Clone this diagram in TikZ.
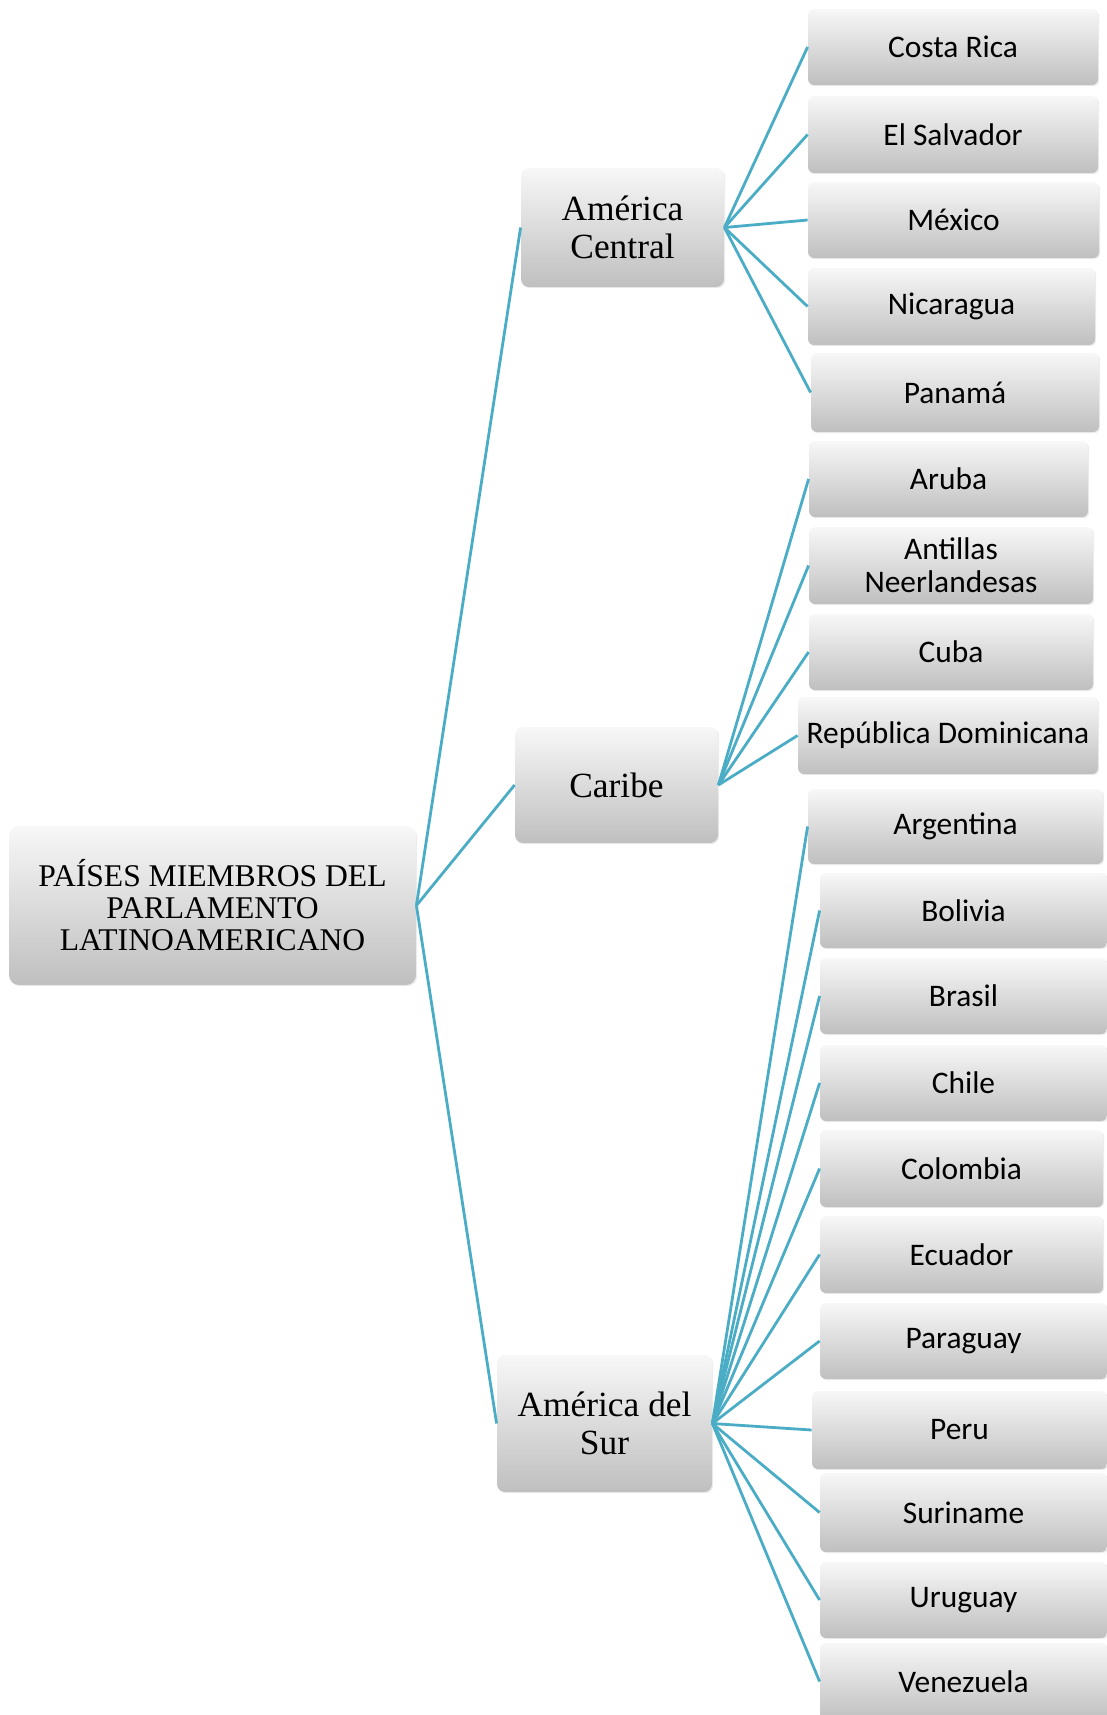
\documentclass[tikz,border=0pt]{standalone}
\usepackage{fontspec}
\usepackage{tikz}
\usetikzlibrary{shadows}
\newfontfamily\countryfont{Carlito}
\newfontfamily\titlefont{Liberation Serif}
\definecolor{linkteal}{HTML}{4BACC6}
\tikzstyle{box}=[rectangle, inner sep=0pt, top color=black!3, bottom color=black!25, drop shadow={opacity=0.15, shadow xshift=0.6pt, shadow yshift=-0.6pt}]
\tikzstyle{rootbox}=[box, rounded corners=5pt, align=center, font=\titlefont\fontsize{15.8}{16}\selectfont]
\tikzstyle{regionbox}=[box, rounded corners=4pt, align=center, font=\titlefont\fontsize{17.7}{19}\selectfont]
\tikzstyle{countrybox}=[box, rounded corners=3pt, align=center, font=\countryfont\fontsize{15.7}{16.5}\selectfont]
\tikzstyle{link}=[draw=linkteal, line width=1.4pt]

\begin{document}
\begin{tikzpicture}[x=0.5pt, y=-0.5pt]
        \useasboundingbox (0, 0) rectangle (1107, 1715);
        \clip (0, 0) rectangle (1107, 1715);
        % root and regions
        \node[rootbox, minimum width=203.5pt, minimum height=79.5pt] (plat) at (212.5, 905.5) {PAÍSES MIEMBROS DEL\\PARLAMENTO\\LATINOAMERICANO};
        \node[regionbox, minimum width=101.5pt, minimum height=59.5pt] (amc) at (622.5, 227.5) {América\\Central};
        \node[regionbox, minimum width=101.5pt, minimum height=58pt] (car) at (616.5, 785) {Caribe};
        \node[regionbox, minimum width=107.5pt, minimum height=68.5pt] (ams) at (604.5, 1423.5) {América del\\Sur};
        % América Central
        \node[countrybox, minimum width=145pt, minimum height=38pt] (costarica) at (953, 47) {Costa Rica};
        \node[countrybox, minimum width=145pt, minimum height=38.5pt] (elsalvador) at (953, 134.5) {El Salvador};
        \node[countrybox, minimum width=145.5pt, minimum height=38pt] (mexico) at (953.5, 220) {México};
        \node[countrybox, minimum width=143.5pt, minimum height=38.5pt] (nicaragua) at (951.5, 306.5) {Nicaragua};
        \node[countrybox, minimum width=144pt, minimum height=39.5pt] (panama) at (955, 392.5) {Panamá};
        % Caribe
        \node[countrybox, minimum width=139.5pt, minimum height=38pt] (aruba) at (948.5, 479) {Aruba};
        \node[countrybox, minimum width=142pt, minimum height=38.5pt] (antillas) at (951, 565.5) {Antillas\\Neerlandesas};
        \node[countrybox, minimum width=142pt, minimum height=38pt] (cuba) at (951, 652) {Cuba};
        \node[countrybox, minimum width=150pt, minimum height=38.5pt] (repdom) at (948, 735.5) {República Dominicana};
        % América del Sur
        \node[countrybox, minimum width=147.5pt, minimum height=37.5pt] (argentina) at (955.5, 826.5) {Argentina};
        \node[countrybox, minimum width=143.5pt, minimum height=37.5pt] (bolivia) at (963.5, 910.5) {Bolivia};
        \node[countrybox, minimum width=143.5pt, minimum height=38pt] (brasil) at (963.5, 996) {Brasil};
        \node[countrybox, minimum width=143.5pt, minimum height=38pt] (chile) at (963.5, 1083) {Chile};
        \node[countrybox, minimum width=141.5pt, minimum height=38.5pt] (colombia) at (961.5, 1168.5) {Colombia};
        \node[countrybox, minimum width=141.5pt, minimum height=38.5pt] (ecuador) at (961.5, 1254.5) {Ecuador};
        \node[countrybox, minimum width=143.5pt, minimum height=38pt] (paraguay) at (963.5, 1341) {Paraguay};
        \node[countrybox, minimum width=147.5pt, minimum height=39pt] (peru) at (959.5, 1430) {Peru};
        \node[countrybox, minimum width=143.5pt, minimum height=39.5pt] (suriname) at (963.5, 1512.5) {Suriname};
        \node[countrybox, minimum width=143.5pt, minimum height=38pt] (uruguay) at (963.5, 1600) {Uruguay};
        \node[countrybox, minimum width=143.5pt, minimum height=38.5pt] (venezuela) at (963.5, 1681.5) {Venezuela};
        % connectors
        \draw[link] (plat.east) -- (amc.west);
        \draw[link] (plat.east) -- (car.west);
        \draw[link] (plat.east) -- (ams.west);
        \draw[link] (amc.east) -- (costarica.west);
        \draw[link] (amc.east) -- (elsalvador.west);
        \draw[link] (amc.east) -- (mexico.west);
        \draw[link] (amc.east) -- (nicaragua.west);
        \draw[link] (amc.east) -- (panama.west);
        \draw[link] (car.east) -- (aruba.west);
        \draw[link] (car.east) -- (antillas.west);
        \draw[link] (car.east) -- (cuba.west);
        \draw[link] (car.east) -- (repdom.west);
        \draw[link] (ams.east) -- (argentina.west);
        \draw[link] (ams.east) -- (bolivia.west);
        \draw[link] (ams.east) -- (brasil.west);
        \draw[link] (ams.east) -- (chile.west);
        \draw[link] (ams.east) -- (colombia.west);
        \draw[link] (ams.east) -- (ecuador.west);
        \draw[link] (ams.east) -- (paraguay.west);
        \draw[link] (ams.east) -- (peru.west);
        \draw[link] (ams.east) -- (suriname.west);
        \draw[link] (ams.east) -- (uruguay.west);
        \draw[link] (ams.east) -- (venezuela.west);
    \end{tikzpicture}
\end{document}
